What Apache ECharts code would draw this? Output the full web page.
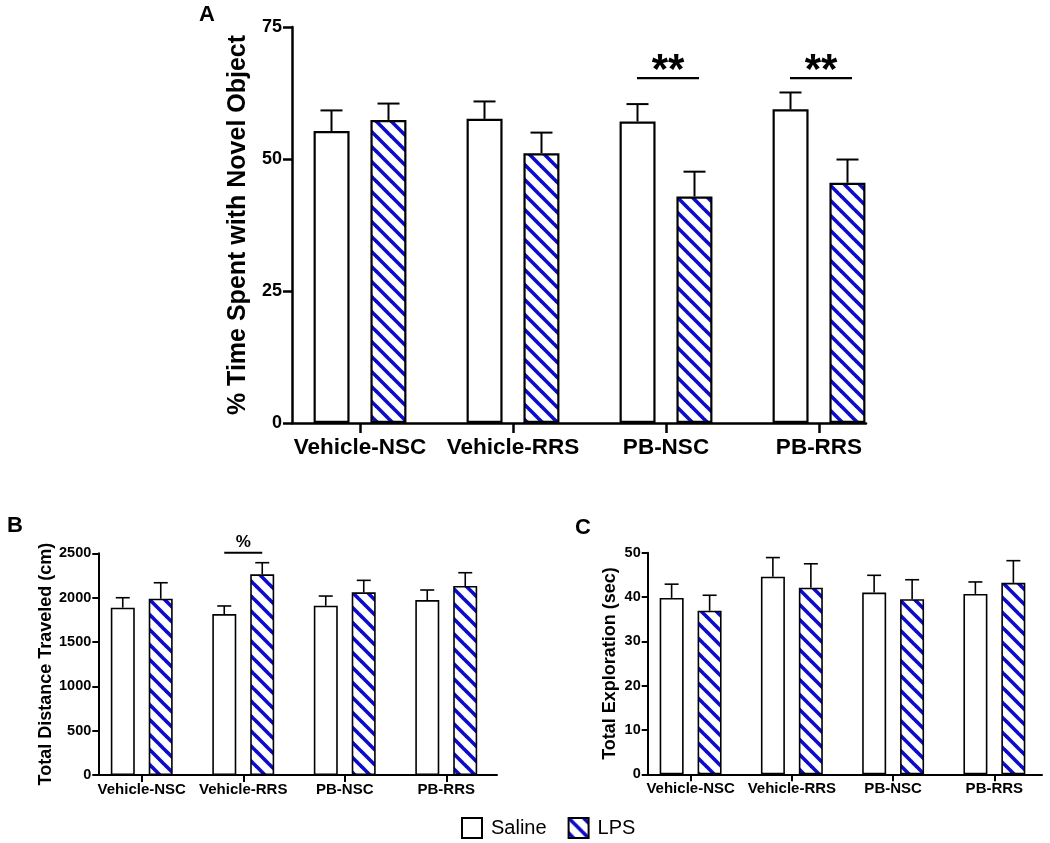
<!DOCTYPE html>
<html>
<head>
<meta charset="utf-8">
<script src="https://cdn.jsdelivr.net/npm/echarts@6/dist/echarts.min.js"></script>
<style>html,body{margin:0;padding:0;background:#fff;}#chart{width:1050px;height:843px;}</style>
</head>
<body>
<div id="chart"></div>
<script>
// ---------- data ----------
const categories = ['Vehicle-NSC', 'Vehicle-RRS', 'PB-NSC', 'PB-RRS'];
const seriesNames = ['Saline', 'LPS'];

// Panel A: % time spent with novel object
const aSaline = [55.3, 57.6, 57.1, 59.4];
const aSalineSem = [3.9, 3.3, 3.3, 3.2];
const aLps = [57.4, 51.1, 42.9, 45.5];
const aLpsSem = [3.1, 3.9, 4.7, 4.4];
const aTicks = [0, 25, 50, 75];
const aSigCats = [2, 3];
const aSigLevel = 65.3;
const aSigText = '**';

// Panel B: total distance traveled (cm)
const bSaline = [1887, 1815, 1909, 1973];
const bSalineSem = [112, 91, 109, 113];
const bLps = [1988, 2263, 2060, 2131];
const bLpsSem = [180, 131, 135, 150];
const bTicks = [0, 500, 1000, 1500, 2000, 2500];
const bSigCats = [1];
const bSigLevel = 2506;
const bSigText = '%';

// Panel C: total exploration (sec)
const cSaline = [39.8, 44.6, 41.0, 40.7];
const cSalineSem = [3.1, 4.3, 3.9, 2.7];
const cLps = [36.9, 42.1, 39.5, 43.2];
const cLpsSem = [3.5, 5.4, 4.4, 5.0];
const cTicks = [0, 10, 20, 30, 40, 50];

// ---------- styling helpers ----------
const FONT = '"Liberation Sans", Arial, Helvetica, sans-serif';
const BLUE = '#0b0bcc';

function makeHatch() {
  const s = 15;
  const c = document.createElement('canvas');
  c.width = s; c.height = s;
  const g = c.getContext('2d');
  g.fillStyle = '#fff';
  g.fillRect(0, 0, s, s);
  g.strokeStyle = BLUE;
  g.lineWidth = 3.6;
  for (let k = -1; k <= 1; k++) {
    g.beginPath();
    g.moveTo(-2, k * s - 2);
    g.lineTo(s + 2, s + k * s + 2);
    g.stroke();
  }
  return c;
}
const hatch = { image: makeHatch(), repeat: 'repeat' };

function pairs(vals, sems) { return vals.map((v, i) => [i, v, sems[i]]); }

function errSeries(xi, yi, vals, sems, offset, cap, lw) {
  return {
    type: 'custom', xAxisIndex: xi, yAxisIndex: yi, z: 5, silent: true,
    data: pairs(vals, sems),
    renderItem: function (params, api) {
      const p0 = api.coord([api.value(0), api.value(1)]);
      const p1 = api.coord([api.value(0), api.value(1) + api.value(2)]);
      const cx = p0[0] + offset;
      const st = { stroke: '#000', lineWidth: lw };
      return { type: 'group', children: [
        { type: 'line', shape: { x1: cx, y1: p0[1], x2: cx, y2: p1[1] }, style: st },
        { type: 'line', shape: { x1: cx - cap / 2, y1: p1[1], x2: cx + cap / 2, y2: p1[1] }, style: st }
      ]};
    }
  };
}

function sigSeries(xi, yi, cats, level, text, half, shift, lw, fontSize, textGap) {
  return {
    type: 'custom', xAxisIndex: xi, yAxisIndex: yi, z: 6, silent: true, clip: false,
    data: cats.map(c => [c, level]),
    renderItem: function (params, api) {
      const p = api.coord([api.value(0), api.value(1)]);
      const cx = p[0] + shift;
      return { type: 'group', children: [
        { type: 'line', shape: { x1: cx - half, y1: p[1], x2: cx + half, y2: p[1] }, style: { stroke: '#000', lineWidth: lw } },
        { type: 'text', x: cx, y: p[1] - textGap, style: { text: text, fill: '#000', font: 'bold ' + fontSize + 'px ' + FONT, align: 'center', verticalAlign: 'bottom' } }
      ]};
    }
  };
}

function barSeries(name, xi, yi, vals, isLps, bw, gap, borderW) {
  return {
    name: name, type: 'bar', xAxisIndex: xi, yAxisIndex: yi,
    data: vals, barWidth: bw, barGap: gap,
    itemStyle: { color: isLps ? hatch : '#fff', borderColor: '#000', borderWidth: borderW },
    emphasis: { disabled: true }, animation: false
  };
}

// panel layout: bars grid (category band) + axis grid (visible axis lines)
const panels = [
  { bars: { left: 283.5, top: 27, width: 612, height: 396 }, axes: { left: 292, top: 27, width: 574, height: 396 } },
  { bars: { left: 91, top: 553.3, width: 406, height: 221.7 }, axes: { left: 98.3, top: 553.3, width: 398.7, height: 221.7 } },
  { bars: { left: 640, top: 552.7, width: 405, height: 221.6 }, axes: { left: 647.7, top: 552.7, width: 394.3, height: 221.6 } }
];
const grids = [];
panels.forEach(p => { grids.push(p.bars); grids.push(p.axes); });

const yRanges = [aTicks, bTicks, cTicks];
const yNames = ['% Time Spent with Novel Object', 'Total Distance Traveled (cm)', 'Total Exploration (sec)'];
const cfg = [
  { xFont: 22.5, xMargin: 13, yFont: 18, yName: 25, nameGap: 40, axisW: 2.5, tickLen: 10, yTickLen: 9 },
  { xFont: 15, xMargin: 7, yFont: 14.5, yName: 18, nameGap: 40, axisW: 2, tickLen: 7, yTickLen: 6 },
  { xFont: 15, xMargin: 7, yFont: 14.5, yName: 18, nameGap: 29, axisW: 2, tickLen: 7, yTickLen: 6 }
];

const xAxes = [], yAxes = [];
cfg.forEach((c, k) => {
  const t = yRanges[k];
  const mx = t[t.length - 1];
  const iv = t[1] - t[0];
  xAxes.push({
    type: 'category', gridIndex: 2 * k, data: categories,
    axisLine: { show: false },
    axisTick: { show: true, alignWithLabel: true, length: c.tickLen, lineStyle: { color: '#000', width: c.axisW } },
    axisLabel: { interval: 0, margin: c.xMargin, color: '#000', fontWeight: 'bold', fontSize: c.xFont, fontFamily: FONT },
    splitLine: { show: false }
  });
  xAxes.push({
    type: 'value', gridIndex: 2 * k + 1, min: 0, max: 1,
    axisLine: { show: true, lineStyle: { color: '#000', width: c.axisW } },
    axisTick: { show: false }, axisLabel: { show: false }, splitLine: { show: false }
  });
  yAxes.push({ type: 'value', gridIndex: 2 * k, min: 0, max: mx, interval: iv, show: false, splitLine: { show: false } });
  yAxes.push({
    type: 'value', gridIndex: 2 * k + 1, min: 0, max: mx, interval: iv,
    name: yNames[k], nameLocation: 'middle', nameGap: c.nameGap,
    nameTextStyle: { color: '#000', fontWeight: 'bold', fontSize: c.yName, fontFamily: FONT },
    axisLine: { show: true, lineStyle: { color: '#000', width: c.axisW } },
    axisTick: { show: true, length: c.yTickLen, lineStyle: { color: '#000', width: c.axisW } },
    axisLabel: { color: '#000', fontWeight: 'bold', fontSize: c.yFont, fontFamily: FONT, margin: c.yTickLen + 1,
                 formatter: v => String(v) },
    splitLine: { show: false }
  });
});

const series = [
  // Panel A
  barSeries(seriesNames[0], 0, 0, aSaline, false, 36, '58%', 2.2),
  barSeries(seriesNames[1], 0, 0, aLps, true, 36, '58%', 2.2),
  errSeries(0, 0, aSaline, aSalineSem, -28.5, 22, 2),
  errSeries(0, 0, aLps, aLpsSem, 28.5, 22, 2),
  sigSeries(0, 0, aSigCats, aSigLevel, aSigText, 31, 2, 2.2, 42, -14),
  // Panel B
  barSeries(seriesNames[0], 2, 2, bSaline, false, 24, '58%', 1.6),
  barSeries(seriesNames[1], 2, 2, bLps, true, 24, '58%', 1.6),
  errSeries(2, 2, bSaline, bSalineSem, -19, 14, 1.6),
  errSeries(2, 2, bLps, bLpsSem, 19, 14, 1.6),
  sigSeries(2, 2, bSigCats, bSigLevel, bSigText, 19, 0, 1.8, 17, 2),
  // Panel C
  barSeries(seriesNames[0], 4, 4, cSaline, false, 24, '58%', 1.6),
  barSeries(seriesNames[1], 4, 4, cLps, true, 24, '58%', 1.6),
  errSeries(4, 4, cSaline, cSalineSem, -19, 14, 1.6),
  errSeries(4, 4, cLps, cLpsSem, 19, 14, 1.6)
];

const chart = echarts.init(document.getElementById('chart'), null, { renderer: 'canvas' });
chart.setOption({
  backgroundColor: '#fff',
  animation: false,
  title: [
    { text: 'A', left: 199, top: 4, padding: 0, textStyle: { fontSize: 22, fontWeight: 'bold', color: '#000', fontFamily: FONT } },
    { text: 'B', left: 7, top: 515, padding: 0, textStyle: { fontSize: 22, fontWeight: 'bold', color: '#000', fontFamily: FONT } },
    { text: 'C', left: 575, top: 517, padding: 0, textStyle: { fontSize: 22, fontWeight: 'bold', color: '#000', fontFamily: FONT } }
  ],
  legend: {
    data: seriesNames, left: 461, top: 817, padding: 0,
    icon: 'rect', itemWidth: 20, itemHeight: 20, itemGap: 21,
    selectedMode: false,
    textStyle: { color: '#000', fontSize: 20, fontFamily: FONT, padding: [0, 0, 0, 4] }
  },
  grid: grids,
  xAxis: xAxes,
  yAxis: yAxes,
  series: series
});
</script>
</body>
</html>
